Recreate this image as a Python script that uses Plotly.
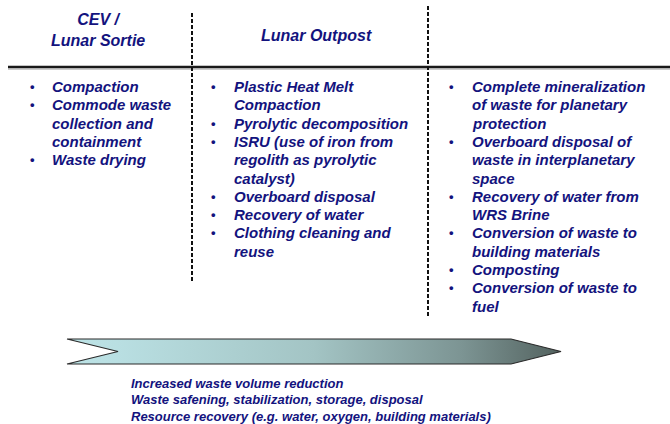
import plotly.graph_objects as go

# ---------------- data (text content) ----------------
headers = ["CEV /<br>Lunar Sortie", "Lunar Outpost", ""]

col1_items = [
    ["Compaction"],
    ["Commode waste", "collection and", "containment"],
    ["Waste drying"],
]
col2_items = [
    ["Plastic Heat Melt", "Compaction"],
    ["Pyrolytic decomposition"],
    ["ISRU (use of iron from", "regolith as pyrolytic", "catalyst)"],
    ["Overboard disposal"],
    ["Recovery of water"],
    ["Clothing cleaning and", "reuse"],
]
col3_items = [
    ["Complete mineralization", "of waste for planetary", "protection"],
    ["Overboard disposal of", "waste in interplanetary", "space"],
    ["Recovery of water from", "WRS Brine"],
    ["Conversion of waste to", "building materials"],
    ["Composting"],
    ["Conversion of waste to", "fuel"],
]
bottom_lines = [
    "Increased waste volume reduction",
    "Waste safening, stabilization, storage, disposal",
    "Resource recovery (e.g. water, oxygen, building materials)",
]

# ---------------- layout / style ----------------
W, H = 670, 424
NAVY = "#13137e"
FONT = "Liberation Sans, Arial, sans-serif"

fig = go.Figure()

# gradient arrow
ax_left, ax_notch, ax_body, ax_tip = 67, 118, 511, 561
ay_top, ay_bot = 339, 364
ay_mid = (ay_top + ay_bot) / 2
fig.add_trace(go.Scatter(
    x=[ax_left, ax_body, ax_tip, ax_body, ax_left, ax_notch, ax_left],
    y=[ay_top, ay_top, ay_mid, ay_bot, ay_bot, ay_mid, ay_top],
    mode="lines", fill="toself",
    line=dict(color="#2a2a2a", width=1.2),
    fillgradient=dict(type="horizontal",
                      colorscale=[[0, "#bde3e6"], [0.1, "#b9dfe2"], [0.5, "#a3c4c4"],
                                  [0.8, "#7c9493"], [1, "#53625f"]]),
    hoverinfo="skip", showlegend=False,
))

shapes = []
# header separator line
shapes.append(dict(type="line", x0=8, x1=W, y0=67, y1=67, xref="x", yref="y",
                   line=dict(color="#1a1a1a", width=2.5)))
shapes.append(dict(type="line", x0=8, x1=W, y0=69, y1=69, xref="x", yref="y",
                   line=dict(color="#9a9a9a", width=1)))
# dashed column dividers
shapes.append(dict(type="line", x0=192, x1=192, y0=13, y1=281, xref="x", yref="y",
                   line=dict(color="#111", width=2, dash="4px,2px")))
shapes.append(dict(type="line", x0=428, x1=428, y0=6, y1=316, xref="x", yref="y",
                   line=dict(color="#111", width=2, dash="4px,2px")))

annotations = []
hfont = dict(family=FONT, size=16, color=NAVY, weight="bold", style="italic")
# headers
annotations.append(dict(x=98, y=30, text=headers[0], showarrow=False, xref="x", yref="y",
                        xanchor="center", yanchor="middle", font=hfont, align="center"))
annotations.append(dict(x=316, y=35, text=headers[1], showarrow=False, xref="x", yref="y",
                        xanchor="center", yanchor="middle", font=hfont, align="center"))

bfont = dict(family=FONT, size=15, color=NAVY, weight="bold", style="italic")
LINE_H = 18.3
Y0 = 86.5
for items, bx, tx in [(col1_items, 32, 50), (col2_items, 213.5, 232), (col3_items, 451.5, 470)]:
    row = 0
    for item in items:
        annotations.append(dict(x=bx, y=Y0 + row * LINE_H, text="•", showarrow=False,
                                xref="x", yref="y", xanchor="center", yanchor="middle",
                                font=dict(family=FONT, size=13, color=NAVY, weight="bold")))
        for line in item:
            annotations.append(dict(x=tx, y=Y0 + row * LINE_H, text=line, showarrow=False,
                                    xref="x", yref="y", xanchor="left", yanchor="middle",
                                    font=bfont))
            row += 1

sfont = dict(family=FONT, size=13, color=NAVY, weight="bold", style="italic")
for i, line in enumerate(bottom_lines):
    annotations.append(dict(x=129, y=383.5 + i * 16.4, text=line, showarrow=False,
                            xref="x", yref="y", xanchor="left", yanchor="middle", font=sfont))

fig.update_layout(
    width=W, height=H,
    margin=dict(l=0, r=0, t=0, b=0),
    paper_bgcolor="white", plot_bgcolor="white",
    xaxis=dict(range=[0, W], visible=False, fixedrange=True),
    yaxis=dict(range=[H, 0], visible=False, fixedrange=True),
    shapes=shapes, annotations=annotations,
    showlegend=False,
)

fig.write_html("out.html",
               config={"displayModeBar": False, "staticPlot": True},
               post_script="document.body.style.margin='0px';document.body.style.overflow='hidden';")
